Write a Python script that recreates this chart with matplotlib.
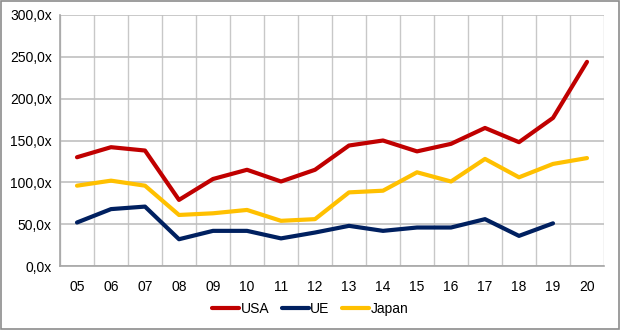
import numpy as np
import matplotlib
matplotlib.use("Agg")
from matplotlib import pyplot as plt
from matplotlib.ticker import FuncFormatter, MultipleLocator

years = ["05", "06", "07", "08", "09", "10", "11", "12", "13", "14", "15", "16", "17", "18", "19", "20"]
usa = [130, 142, 138, 79, 104, 115, 101, 115, 144, 150, 137, 146, 165, 148, 177, 244]
ue = [52, 68, 71, 32, 42, 42, 33, 40, 48, 42, 46, 46, 56, 36, 51, np.nan]
japan = [96, 102, 96, 61, 63, 67, 54, 56, 88, 90, 112, 101, 128, 106, 122, 129]

plt.rcParams["font.family"] = ["Liberation Sans", "DejaVu Sans"]
plt.rcParams["font.size"] = 10.0

fig = plt.figure(figsize=(6.2, 3.3), dpi=100)
ax = fig.add_axes([60 / 620, 1 - 266 / 330, 544 / 620, 251 / 330])

x = np.arange(len(years))
ax.plot(x, usa, color="#C00000", lw=3, label="USA", solid_joinstyle="round", solid_capstyle="round")
ax.plot(x, ue, color="#002060", lw=3, label="UE", solid_joinstyle="round", solid_capstyle="round")
ax.plot(x, japan, color="#FFC000", lw=3, label="Japan", solid_joinstyle="round", solid_capstyle="round")

ax.set_xlim(-0.5, len(years) - 0.5)
ax.set_ylim(0, 300)
ax.yaxis.set_major_locator(MultipleLocator(50))
ax.yaxis.set_major_formatter(FuncFormatter(lambda v, p: f"{v:.1f}".replace(".", ",") + "x"))
ax.set_xticks(x)
ax.set_xticklabels(years)
ax.set_xticks(np.arange(-0.5, len(years)), minor=True)

ax.grid(axis="y", which="major", color="#c0c0c0", lw=1.2)
ax.grid(axis="x", which="minor", color="#c8c8c8", lw=1.0)
ax.set_axisbelow(True)
for s in ["top", "right"]:
    ax.spines[s].set_visible(False)
for s in ["left", "bottom"]:
    ax.spines[s].set_color("#a6a6a6")
    ax.spines[s].set_linewidth(1.2)
ax.tick_params(which="both", length=0)
ax.tick_params(axis="x", pad=10)
ax.tick_params(axis="y", pad=6)

fig.legend(loc="center", bbox_to_anchor=(0.5, 1 - 309 / 330), ncol=3, frameon=False,
           handlelength=1.95, handletextpad=0.1, columnspacing=0.9, fontsize=10)

fig.patches.append(plt.Rectangle((0.001, 0.002), 0.997, 0.995, transform=fig.transFigure,
                                 fill=False, edgecolor="#8c8c8c", lw=1.2))

fig.savefig("out.png", dpi=100)
